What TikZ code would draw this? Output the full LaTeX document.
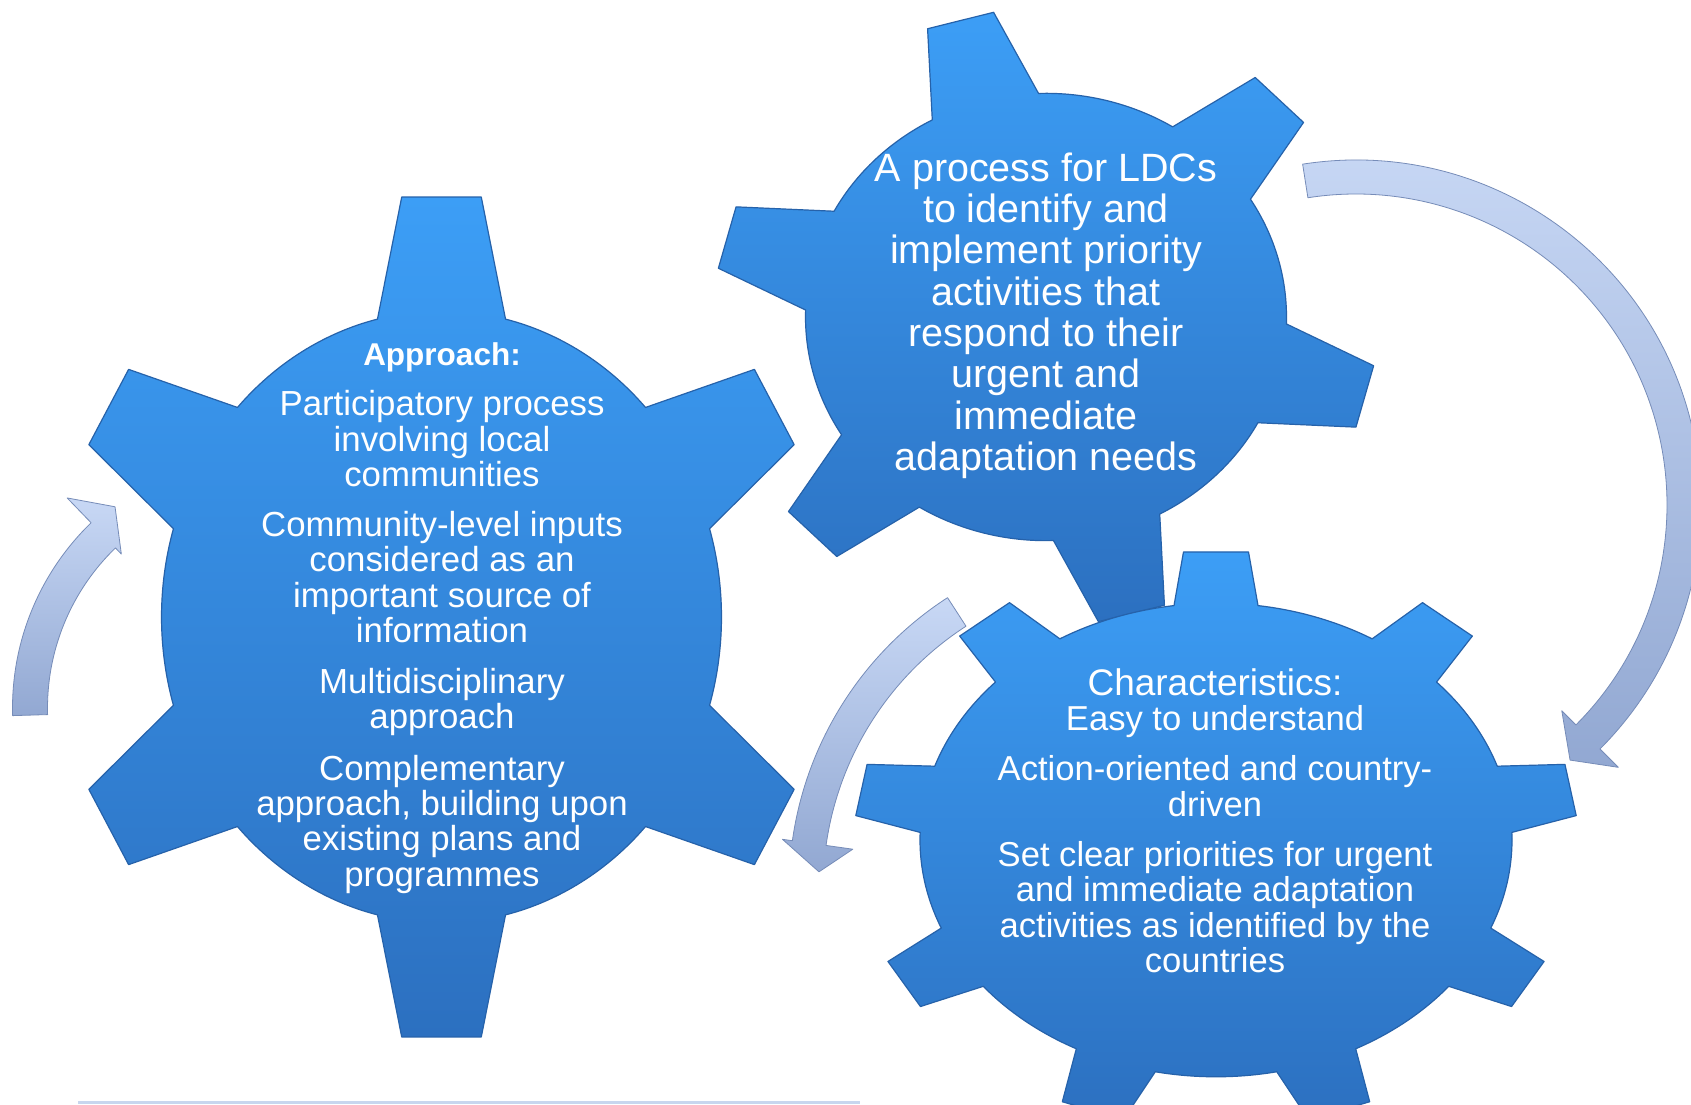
\documentclass[tikz,border=0pt]{standalone}
\usepackage{fontspec}
\setmainfont{Liberation Sans}
\definecolor{gtop}{RGB}{60,158,246}
\definecolor{gbot}{RGB}{44,112,192}
\definecolor{gedge}{RGB}{38,98,170}
\definecolor{atop}{RGB}{200,216,245}
\definecolor{abot}{RGB}{146,168,210}
\definecolor{aedge}{RGB}{118,140,184}
\definecolor{botrule}{RGB}{200,214,238}
% #1 teeth, #2 first tooth angle, #3 tip radius, #4 tip half angle, #5 root radius, #6 root half angle
\newcommand{\mygear}[6]{%
  (#2-#6:#5) \foreach \k in {1,...,#1}{
    -- ({#2+(\k-1)*360/#1-#4}:#3) -- ({#2+(\k-1)*360/#1+#4}:#3)
    -- ({#2+(\k-1)*360/#1+#6}:#5)
    arc[start angle={#2+(\k-1)*360/#1+#6}, end angle={#2+\k*360/#1-#6}, radius=#5]
  } -- cycle}
\tikzset{
  gearbody/.style={top color=gtop, bottom color=gbot, draw=gedge, line width=1.2pt, line join=round},
  arrowbody/.style={top color=atop, bottom color=abot, draw=aedge, line width=0.8pt, line join=round},
  gtext/.style={text=white, inner sep=0pt, anchor=base},
  txtA/.style={gtext, font=\fontsize{34.8}{36}\selectfont},
  txtAh/.style={gtext, font=\bfseries\fontsize{31.5}{34}\selectfont},
  txtB/.style={gtext, font=\fontsize{39.5}{41}\selectfont},
  txtC/.style={gtext, font=\fontsize{34.6}{36}\selectfont},
  txtCh/.style={gtext, font=\fontsize{37}{38}\selectfont}
}
\begin{document}
\begin{tikzpicture}[x=1pt,y=1pt]
\useasboundingbox (0,0) rectangle (1691,1104);
\fill[white] (0,0) rectangle (1691,1104);

% bottom rule
\fill[botrule] (78,0) rectangle (860,3);

% gear 1 (left)
\begin{scope}[shift={(441.5,487)}, xscale=0.915]
  \path[gearbody] \mygear{6}{90}{422.2}{5.91}{306}{13.22};
\end{scope}

% gear 2 (top right)
\begin{scope}[shift={(1046,787)}, yscale=0.93]
  \path[gearbody] \mygear{6}{105}{331.8}{5.91}{240.5}{13.22};
\end{scope}

% gear 3 (bottom right)
\begin{scope}[shift={(1216,264)}, yscale=0.8]
  \path[gearbody] \mygear{9}{90}{361.5}{5.16}{296}{8.16};
\end{scope}

% big arrow (top right, clockwise)
\begin{scope}[shift={(1356,599)}]
  \path[arrowbody] (98.9:345) arc[start angle=98.9, end angle=-45, radius=345]
    -- (-45:371) -- (-50:333) -- (-45:291) -- (-45:311)
    arc[start angle=-45, end angle=98.9, radius=311] -- cycle;
\end{scope}

% middle arrow
\begin{scope}[shift={(1136,215)}]
  \path[arrowbody] (122.9:347) arc[start angle=122.9, end angle=172, radius=347]
    -- (172:357) -- (176.9:317.5) -- (172:286) -- (172:313)
    arc[start angle=172, end angle=122.9, radius=313] -- cycle;
\end{scope}

% left arrow
\begin{scope}[shift={(270,396)}]
  \path[arrowbody] (181.7:257.5) arc[start angle=181.7, end angle=134, radius=257.5]
    -- (134:292) -- (127.6:254) -- (134:214) -- (134:222.5)
    arc[start angle=134, end angle=181.7, radius=222.5] -- cycle;
\end{scope}

% gear 1 text
\node[txtAh] (a0) at (442,738) {Approach:};
\node[txtA] (a1) at (442,688.3) {Participatory process};
\node[txtA] (a2) at (442,652.9) {involving local};
\node[txtA] (a3) at (442,617.5) {communities};
\node[txtA] (a4) at (442,567.5) {Community-level inputs};
\node[txtA] (a5) at (442,532.1) {considered as an};
\node[txtA] (a6) at (442,496.7) {important source of};
\node[txtA] (a7) at (442,461.3) {information};
\node[txtA] (a8) at (442,410.5) {Multidisciplinary};
\node[txtA] (a9) at (442,375.1) {approach};
\node[txtA] (a10) at (442,324) {Complementary};
\node[txtA] (a11) at (442,288.6) {approach, building upon};
\node[txtA] (a12) at (442,253.2) {existing plans and};
\node[txtA] (a13) at (442,217.8) {programmes};

% gear 2 text
\node[txtB] (b1) at (1046,922) {A process for LDCs};
\node[txtB] (b2) at (1046,881) {to identify and};
\node[txtB] (b3) at (1046,840) {implement priority};
\node[txtB] (b4) at (1046,798) {activities that};
\node[txtB] (b5) at (1046,757) {respond to their};
\node[txtB] (b6) at (1046,716) {urgent and};
\node[txtB] (b7) at (1046,674) {immediate};
\node[txtB] (b8) at (1046,633) {adaptation needs};

% gear 3 text
\node[txtCh] (c1) at (1215,409) {Characteristics:};
\node[txtC] (c2) at (1215,373.6) {Easy to understand};
\node[txtC] (c3) at (1215,323.3) {Action-oriented and country-};
\node[txtC] (c4) at (1215,288) {driven};
\node[txtC] (c5) at (1215,238) {Set clear priorities for urgent};
\node[txtC] (c6) at (1215,202.3) {and immediate adaptation};
\node[txtC] (c7) at (1215,167) {activities as identified by the};
\node[txtC] (c8) at (1215,131.5) {countries};
\end{tikzpicture}
\end{document}
